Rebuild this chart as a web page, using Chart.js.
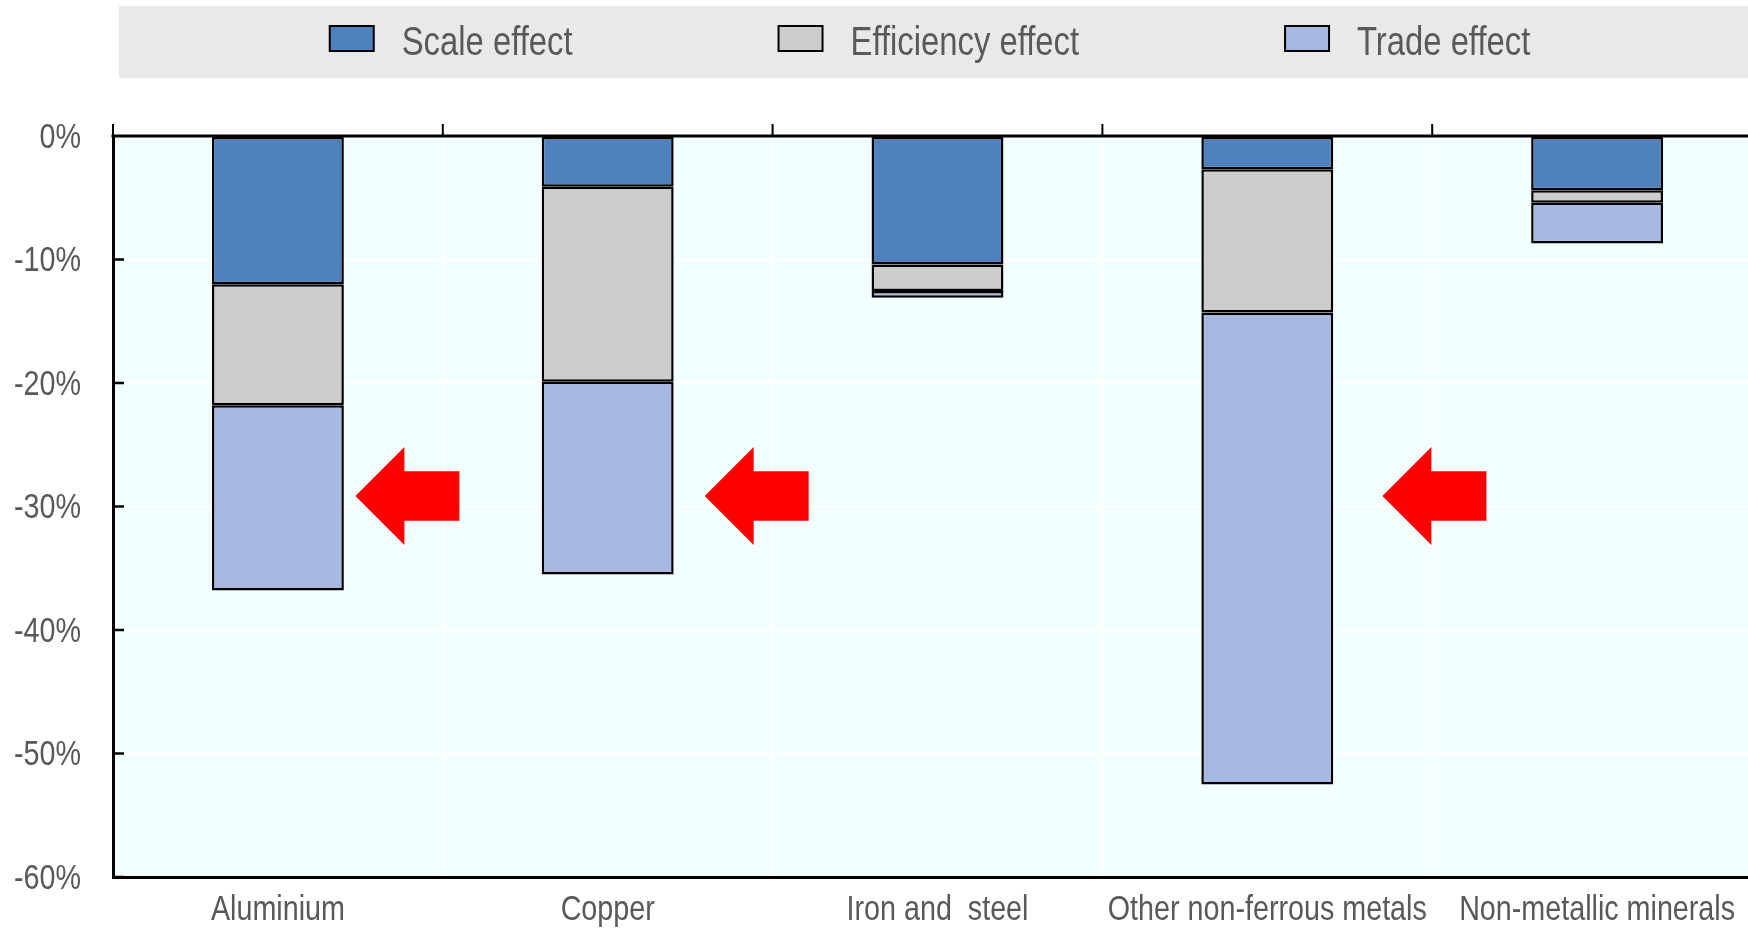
<!DOCTYPE html>
<html><head><meta charset="utf-8">
<script src="https://cdn.jsdelivr.net/npm/chart.js@4/dist/chart.umd.min.js"></script>
<style>
html,body{margin:0;padding:0;overflow:hidden;background:#fff;width:1748px;height:929px}
canvas{display:block}
</style></head><body>
<canvas id="c" width="1748" height="929"></canvas>
<script>
// ---- data ----
const categories = ['Aluminium', 'Copper', 'Iron and  steel', 'Other non-ferrous metals', 'Non-metallic minerals'];
const seriesNames = ['Scale effect', 'Efficiency effect', 'Trade effect'];
const scaleEffect = [-12.0, -4.1, -10.4, -2.7, -4.4];
const efficiencyEffect = [-9.8, -15.8, -2.15, -11.6, -1.0];
const tradeEffect = [-15.0, -15.6, -0.55, -38.2, -3.3];
const yMin = -60, yMax = 0, yStep = 10;
// annotation arrows (category index, offset in category widths, value)
const arrowCategories = [0, 1, 3];
const arrowOffsets = [0.235, 0.294, 0.349];
const arrowValue = -29.15;

// ---- style ----
const FONT = '"Liberation Sans", Arial, sans-serif';
const NARROW = 0.82;
const TEXT = '#595959';
const colors = ['#4f81bd', '#cccccc', '#a7b8e2'];
const PLOT_OVERFLOW_RIGHT = 14; // plot area continues past the right edge of the picture

function narrowText(ctx, text, x, y, align, size) {
  ctx.save();
  ctx.font = size + 'px ' + FONT;
  ctx.translate(x, y);
  ctx.scale(NARROW, 1);
  ctx.textAlign = align;
  ctx.textBaseline = 'alphabetic';
  ctx.fillStyle = TEXT;
  ctx.fillText(text, 0, 0);
  ctx.restore();
}

const extendPlugin = {
  id: 'extend',
  afterLayout(chart) {
    const xs = chart.scales.x;
    const newRight = chart.width + PLOT_OVERFLOW_RIGHT;
    chart.chartArea.right = newRight;
    chart.chartArea.width = newRight - chart.chartArea.left;
    xs.right = newRight;
    xs.width = newRight - xs.left;
    xs.configure();
  }
};

const bgPlugin = {
  id: 'bg',
  beforeDraw(chart) {
    const {ctx, chartArea: a} = chart;
    ctx.save();
    ctx.fillStyle = '#e9e9e9';
    ctx.fillRect(119, 6, chart.width - 119, 72);
    ctx.fillStyle = '#f3ffff';
    ctx.fillRect(a.left, a.top, a.right - a.left, a.bottom - a.top);
    ctx.restore();
  }
};

const framePlugin = {
  id: 'frame',
  afterDatasetsDraw(chart) {
    const {ctx, chartArea: a, scales: {x: xs, y: ys}} = chart;
    const catW = xs.getPixelForValue(1) - xs.getPixelForValue(0);
    ctx.save();
    ctx.strokeStyle = '#000';
    // top (zero) line
    ctx.lineWidth = 3;
    ctx.beginPath();
    ctx.moveTo(a.left - 1.5, ys.getPixelForValue(0));
    ctx.lineTo(a.right, ys.getPixelForValue(0));
    ctx.stroke();
    // category boundary ticks upward
    ctx.lineWidth = 2;
    for (let i = 0; i <= categories.length; i++) {
      const bx = xs.getPixelForValue(0) + (i - 0.5) * catW;
      ctx.beginPath();
      ctx.moveTo(bx, a.top);
      ctx.lineTo(bx, a.top - 12);
      ctx.stroke();
    }
    // y ticks inward
    ctx.lineWidth = 2.5;
    for (let v = yMax - yStep; v >= yMin; v -= yStep) {
      const py = ys.getPixelForValue(v);
      ctx.beginPath();
      ctx.moveTo(a.left, py);
      ctx.lineTo(a.left + 11, py);
      ctx.stroke();
    }
    // arrows
    ctx.fillStyle = '#ff0000';
    arrowCategories.forEach((ci, k) => {
      const tipX = xs.getPixelForValue(ci) + arrowOffsets[k] * catW;
      const tipY = ys.getPixelForValue(arrowValue);
      const L = 104, H = 49, HH = 49, SH = 24.7;
      ctx.beginPath();
      ctx.moveTo(tipX, tipY);
      ctx.lineTo(tipX + H, tipY - HH);
      ctx.lineTo(tipX + H, tipY - SH);
      ctx.lineTo(tipX + L, tipY - SH);
      ctx.lineTo(tipX + L, tipY + SH);
      ctx.lineTo(tipX + H, tipY + SH);
      ctx.lineTo(tipX + H, tipY + HH);
      ctx.closePath();
      ctx.fill();
    });
    ctx.restore();
  },
  afterDraw(chart) {
    const {ctx, scales: {x: xs, y: ys}} = chart;
    // axis labels
    ys.ticks.forEach(t => {
      narrowText(ctx, t.value + '%', 81, ys.getPixelForValue(t.value) + 11.5, 'right', 35);
    });
    chart.data.labels.forEach((lab, i) => {
      narrowText(ctx, lab, xs.getPixelForValue(i), 920, 'center', 35);
    });
    // legend
    const ds = chart.data.datasets;
    ctx.save();
    ctx.font = '40px ' + FONT;
    const BOX_W = 44, BOX_H = 25, GAP = 28, SPACING = 206;
    const widths = ds.map(d => ctx.measureText(d.label).width * NARROW);
    ctx.restore();
    const total = widths.reduce((s, w) => s + BOX_W + GAP + w, 0) + SPACING * (ds.length - 1);
    let x = 930 - total / 2;
    ds.forEach((d, i) => {
      ctx.save();
      ctx.fillStyle = d.backgroundColor;
      ctx.fillRect(x, 26, BOX_W, BOX_H);
      ctx.lineWidth = 2;
      ctx.strokeStyle = '#000';
      ctx.strokeRect(x, 26, BOX_W, BOX_H);
      ctx.restore();
      narrowText(ctx, d.label, x + BOX_W + GAP, 55, 'left', 40);
      x += BOX_W + GAP + widths[i] + SPACING;
    });
  }
};

const seriesValues = [scaleEffect, efficiencyEffect, tradeEffect];
const datasets = seriesNames.map((name, i) => ({
  label: name,
  data: seriesValues[i],
  backgroundColor: colors[i],
  borderColor: '#000',
  borderWidth: 2.5,
  borderSkipped: false,
  categoryPercentage: 1,
  barPercentage: 0.4
}));

new Chart(document.getElementById('c'), {
  type: 'bar',
  data: {labels: categories, datasets},
  options: {
    responsive: false,
    animation: false,
    events: [],
    layout: {padding: {top: 136, left: 0, right: 0, bottom: 0}},
    plugins: {legend: {display: false}, tooltip: {enabled: false}},
    scales: {
      x: {
        stacked: true,
        grid: {color: '#ffffff', lineWidth: 2, drawTicks: false},
        border: {color: '#000', width: 3},
        ticks: {display: false},
        afterFit: s => { s.height = 52; }
      },
      y: {
        stacked: true,
        min: yMin, max: yMax,
        grid: {color: '#ffffff', lineWidth: 2, drawTicks: false},
        border: {color: '#000', width: 3},
        ticks: {display: false, stepSize: yStep},
        afterFit: s => { s.width = 113; }
      }
    }
  },
  plugins: [extendPlugin, bgPlugin, framePlugin]
});
</script>
</body></html>
